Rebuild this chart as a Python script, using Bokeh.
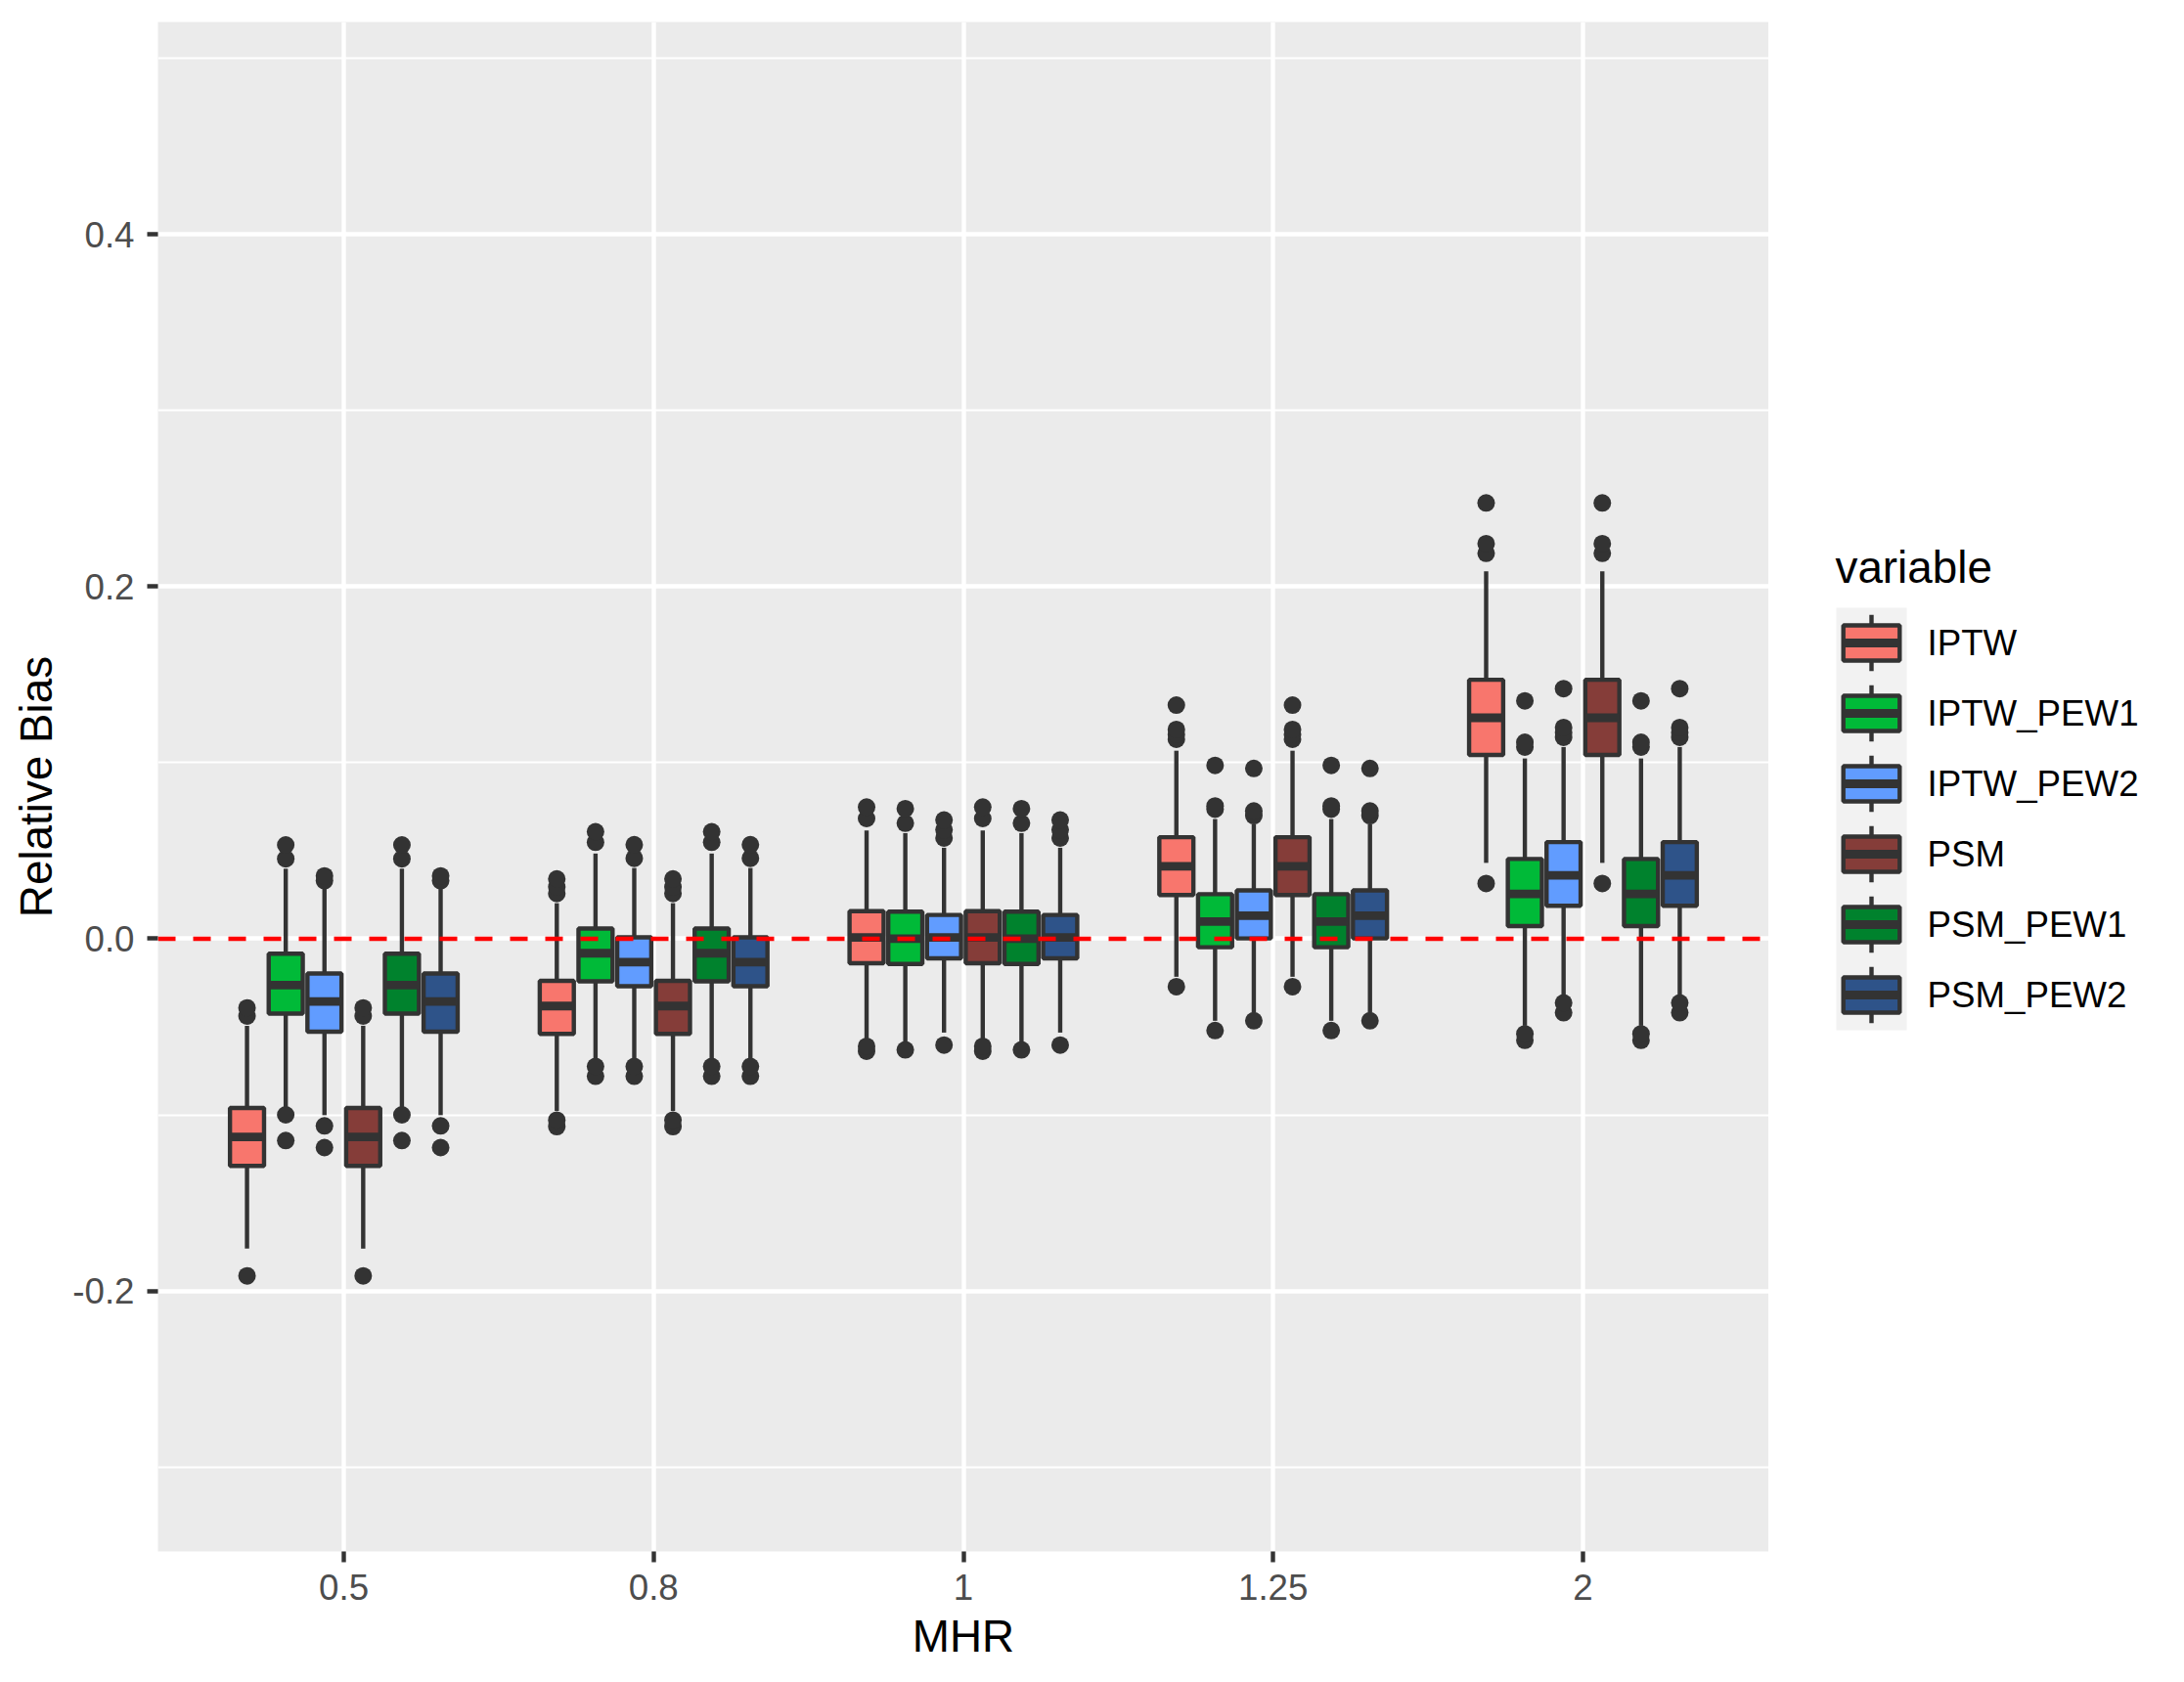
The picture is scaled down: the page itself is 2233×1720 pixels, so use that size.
from bokeh.plotting import figure
from bokeh.layouts import row
from bokeh.models import ColumnDataSource, Range1d, FixedTicker, PrintfTickFormatter, Span
from bokeh.core.properties import value
from bokeh.embed import file_html
from bokeh.resources import INLINE

# ---------------- data ----------------
categories = ["0.5", "0.8", "1", "1.25", "2"]
variables = ["IPTW", "IPTW_PEW1", "IPTW_PEW2", "PSM", "PSM_PEW1", "PSM_PEW2"]
colors = ["#F8766D", "#00BA38", "#619CFF", "#853D39", "#00822D", "#2E5389"]
reference_bias = 0.0

# box statistics per variable, one value per MHR category
iptw_lower = [-0.176, -0.0978, -0.0567, -0.0216, 0.0431]
iptw_q1 = [-0.129, -0.0540, -0.0139, 0.0248, 0.1044]
iptw_median = [-0.1126, -0.0382, 0.0007, 0.0412, 0.1255]
iptw_q3 = [-0.0961, -0.0239, 0.0157, 0.0577, 0.1471]
iptw_upper = [-0.0494, 0.0202, 0.0615, 0.1068, 0.2087]
iptw_outliers = [[-0.1915, -0.0439, -0.0393],
                 [-0.1067, -0.1030, 0.0257, 0.0294, 0.0340],
                 [-0.0639, -0.0611, 0.0683, 0.0748],
                 [-0.0272, 0.1133, 0.1161, 0.1189, 0.1327],
                 [0.0314, 0.2189, 0.2244, 0.2475]]

pew1_lower = [-0.0956, -0.0684, -0.0585, -0.0466, -0.0494]
pew1_q1 = [-0.0425, -0.0242, -0.0143, -0.0048, 0.0072]
pew1_median = [-0.0263, -0.0082, 0.0000, 0.0098, 0.0255]
pew1_q3 = [-0.0085, 0.0058, 0.0154, 0.0253, 0.0453]
pew1_upper = [0.0398, 0.0484, 0.0600, 0.0680, 0.1024]
pew1_outliers = [[-0.1146, -0.1000, 0.0454, 0.0533],
                 [-0.0781, -0.0725, 0.0548, 0.0608],
                 [-0.0631, 0.0656, 0.0739],
                 [-0.0521, 0.0736, 0.0754, 0.0985],
                 [-0.0577, -0.0540, 0.1089, 0.1116, 0.1351]]

pew2_lower = [-0.1002, -0.0684, -0.0533, -0.0420, -0.0327]
pew2_q1 = [-0.0528, -0.0270, -0.0111, 0.0002, 0.0187]
pew2_median = [-0.0356, -0.0133, 0.0007, 0.0131, 0.0360]
pew2_q3 = [-0.0197, 0.0008, 0.0135, 0.0275, 0.0549]
pew2_upper = [0.0283, 0.0402, 0.0517, 0.0652, 0.1089]
pew2_outliers = [[-0.1186, -0.1063, 0.0330, 0.0357],
                 [-0.0781, -0.0725, 0.0457, 0.0534],
                 [-0.0604, 0.0572, 0.0619, 0.0674],
                 [-0.0466, 0.0699, 0.0726, 0.0967],
                 [-0.0420, -0.0364, 0.1144, 0.1172, 0.1200, 0.1421]]

psm_lower = [-0.176, -0.0978, -0.0567, -0.0216, 0.0431]
psm_q1 = [-0.129, -0.0540, -0.0139, 0.0248, 0.1044]
psm_median = [-0.1126, -0.0382, 0.0007, 0.0412, 0.1255]
psm_q3 = [-0.0961, -0.0239, 0.0157, 0.0577, 0.1471]
psm_upper = [-0.0494, 0.0202, 0.0615, 0.1068, 0.2087]
psm_outliers = [[-0.1915, -0.0439, -0.0393],
                [-0.1067, -0.1030, 0.0257, 0.0294, 0.0340],
                [-0.0639, -0.0611, 0.0683, 0.0748],
                [-0.0272, 0.1133, 0.1161, 0.1189, 0.1327],
                [0.0314, 0.2189, 0.2244, 0.2475]]

psm_pew1_lower = [-0.0956, -0.0684, -0.0585, -0.0466, -0.0494]
psm_pew1_q1 = [-0.0425, -0.0242, -0.0143, -0.0048, 0.0072]
psm_pew1_median = [-0.0263, -0.0082, 0.0000, 0.0098, 0.0255]
psm_pew1_q3 = [-0.0085, 0.0058, 0.0154, 0.0253, 0.0453]
psm_pew1_upper = [0.0398, 0.0484, 0.0600, 0.0680, 0.1024]
psm_pew1_outliers = [[-0.1146, -0.1000, 0.0454, 0.0533],
                     [-0.0781, -0.0725, 0.0548, 0.0608],
                     [-0.0631, 0.0656, 0.0739],
                     [-0.0521, 0.0736, 0.0754, 0.0985],
                     [-0.0577, -0.0540, 0.1089, 0.1116, 0.1351]]

psm_pew2_lower = [-0.1002, -0.0684, -0.0533, -0.0420, -0.0327]
psm_pew2_q1 = [-0.0528, -0.0270, -0.0111, 0.0002, 0.0187]
psm_pew2_median = [-0.0356, -0.0133, 0.0007, 0.0131, 0.0360]
psm_pew2_q3 = [-0.0197, 0.0008, 0.0135, 0.0275, 0.0549]
psm_pew2_upper = [0.0283, 0.0402, 0.0517, 0.0652, 0.1089]
psm_pew2_outliers = [[-0.1186, -0.1063, 0.0330, 0.0357],
                     [-0.0781, -0.0725, 0.0457, 0.0534],
                     [-0.0604, 0.0572, 0.0619, 0.0674],
                     [-0.0466, 0.0699, 0.0726, 0.0967],
                     [-0.0420, -0.0364, 0.1144, 0.1172, 0.1200, 0.1421]]

stats = {
    "IPTW": (iptw_lower, iptw_q1, iptw_median, iptw_q3, iptw_upper, iptw_outliers),
    "IPTW_PEW1": (pew1_lower, pew1_q1, pew1_median, pew1_q3, pew1_upper, pew1_outliers),
    "IPTW_PEW2": (pew2_lower, pew2_q1, pew2_median, pew2_q3, pew2_upper, pew2_outliers),
    "PSM": (psm_lower, psm_q1, psm_median, psm_q3, psm_upper, psm_outliers),
    "PSM_PEW1": (psm_pew1_lower, psm_pew1_q1, psm_pew1_median, psm_pew1_q3, psm_pew1_upper, psm_pew1_outliers),
    "PSM_PEW2": (psm_pew2_lower, psm_pew2_q1, psm_pew2_median, psm_pew2_q3, psm_pew2_upper, psm_pew2_outliers),
}

# ---------------- style ----------------
FONT = "Liberation Sans"
DARK = "#333333"
LW = 4.4
DODGE = 0.125
BOX_W = 0.11

H = 1704
MAIN_W = 1808
LEG_W = 2217 - MAIN_W
FRAME_TOP = 22
FRAME_BOTTOM = 1586

p = figure(width=MAIN_W, height=H, output_backend="svg", toolbar_location=None,
           x_range=Range1d(0.4, 5.6), y_range=Range1d(-0.348, 0.5207),
           min_border_left=161, min_border_right=0, min_border_top=FRAME_TOP,
           min_border_bottom=H - FRAME_BOTTOM)
p.background_fill_color = "#EBEBEB"
p.border_fill_color = "white"
p.outline_line_color = None

# grids
p.xgrid.grid_line_color = "white"
p.xgrid.grid_line_width = LW
p.ygrid.grid_line_color = "white"
p.ygrid.grid_line_width = LW
p.ygrid.minor_grid_line_color = "white"
p.ygrid.minor_grid_line_width = LW / 2

# axes
p.xaxis.ticker = FixedTicker(ticks=list(range(1, len(categories) + 1)))
p.xaxis.major_label_overrides = {i + 1: c for i, c in enumerate(categories)}
p.yaxis.ticker = FixedTicker(ticks=[-0.2, 0.0, 0.2, 0.4], minor_ticks=[-0.3, -0.1, 0.1, 0.3, 0.5])
p.yaxis.formatter = PrintfTickFormatter(format="%.1f")
p.xaxis.axis_label = "MHR"
p.yaxis.axis_label = "Relative Bias"
for ax in (p.xaxis, p.yaxis):
    ax.axis_line_color = None
    ax.major_tick_out = 11
    ax.major_tick_in = 0
    ax.minor_tick_out = 0
    ax.minor_tick_in = 0
    ax.major_tick_line_color = DARK
    ax.major_tick_line_width = LW
    ax.major_label_text_font = FONT
    ax.major_label_text_font_size = "36.7px"
    ax.major_label_text_color = "#4D4D4D"
    ax.axis_label_text_font = FONT
    ax.axis_label_text_font_size = "45.8px"
    ax.axis_label_text_font_style = "normal"
    ax.axis_label_text_color = "black"
p.xaxis.major_label_standoff = 12
p.xaxis.axis_label_standoff = 9
p.yaxis.major_label_standoff = 13
p.yaxis.axis_label_standoff = 8

# ---------------- boxes ----------------
n = len(variables)
for j, (var, col) in enumerate(zip(variables, colors)):
    lower, q1, med, q3, upper, outs = stats[var]
    off = (j - (n - 1) / 2) * DODGE
    xs = [i + 1 + off for i in range(len(categories))]
    src = ColumnDataSource(dict(
        x=xs, left=[x - BOX_W / 2 for x in xs], right=[x + BOX_W / 2 for x in xs],
        lower=lower, q1=q1, median=med, q3=q3, upper=upper))
    ox, oy = [], []
    for i, vals in enumerate(outs):
        ox += [xs[i]] * len(vals)
        oy += vals
    p.scatter(ox, oy, size=18, color=DARK, line_color=None)
    p.segment(x0="x", y0="q3", x1="x", y1="upper", source=src, line_color=DARK, line_width=LW)
    p.segment(x0="x", y0="q1", x1="x", y1="lower", source=src, line_color=DARK, line_width=LW)
    p.quad(left="left", right="right", bottom="q1", top="q3", source=src,
           fill_color=col, line_color=DARK, line_width=LW)
    p.segment(x0="left", y0="median", x1="right", y1="median", source=src,
              line_color=DARK, line_width=2 * LW, line_cap="butt")

p.add_layout(Span(location=reference_bias, dimension="width", line_color="red",
                  line_width=LW, line_dash="18 18"))

# ---------------- legend (ggplot-style keys) ----------------
KEY = 72.0          # key size in px
KEY_LEFT = 69.0     # key column left edge
KEY_TOP = 621.0     # top of first key (page px)
LABEL_X = 162.0
TITLE_BASELINE = 580.0

# the row aligns this figure's frame with the main frame, so map page px directly
leg = figure(width=LEG_W, height=H, output_backend="svg", toolbar_location=None,
             x_range=Range1d(0, LEG_W), y_range=Range1d(FRAME_BOTTOM, FRAME_TOP),
             x_axis_type=None, y_axis_type=None, min_border=0,
             min_border_top=FRAME_TOP, min_border_bottom=H - FRAME_BOTTOM)
leg.grid.visible = False
leg.outline_line_color = None
leg.background_fill_color = "white"
leg.border_fill_color = "white"

tops = [KEY_TOP + k * KEY for k in range(n)]
cx = KEY_LEFT + KEY / 2
lsrc = ColumnDataSource(dict(
    label=variables, color=colors,
    top=tops, mid=[t + KEY / 2 for t in tops],
    box_top=[t + 0.25 * KEY for t in tops], box_bot=[t + 0.75 * KEY for t in tops],
    w_top=[t + 0.1 * KEY for t in tops], w_bot=[t + 0.9 * KEY for t in tops]))

leg.quad(left=KEY_LEFT, right=KEY_LEFT + KEY, top=KEY_TOP, bottom=KEY_TOP + n * KEY,
         fill_color="#F2F2F2", line_color=None)
leg.segment(x0=cx, x1=cx, y0="w_top", y1="w_bot", source=lsrc, line_color=DARK, line_width=LW)
leg.quad(left=KEY_LEFT + 0.1 * KEY, right=KEY_LEFT + 0.9 * KEY, top="box_top", bottom="box_bot",
         source=lsrc, fill_color="color", line_color=DARK, line_width=LW)
leg.segment(x0=KEY_LEFT + 0.1 * KEY, x1=KEY_LEFT + 0.9 * KEY, y0="mid", y1="mid", source=lsrc,
            line_color=DARK, line_width=2 * LW, line_cap="butt")
leg.text(x=LABEL_X, y="mid", text="label", source=lsrc, text_font=value(FONT),
         text_font_size="36.7px", text_color="black", text_baseline="middle", text_align="left")
leg.text(x=[KEY_LEFT - 1], y=[TITLE_BASELINE], text=["variable"], text_font=value(FONT),
         text_font_size="45.8px", text_color="black", text_baseline="alphabetic", text_align="left")

layout = row(p, leg, spacing=0)
open("out.html", "w").write(file_html(layout, INLINE))
